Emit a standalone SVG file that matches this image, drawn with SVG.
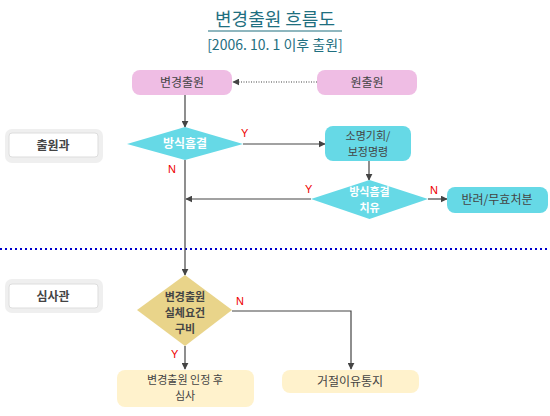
<svg xmlns="http://www.w3.org/2000/svg" width="550" height="416" viewBox="0 0 550 416">
<defs>
<marker id="ah" viewBox="0 0 10 10" refX="9" refY="5" markerWidth="7" markerHeight="7" orient="auto" markerUnits="userSpaceOnUse"><path d="M0,0 L10,5 L0,10 z" fill="#444"/></marker>
</defs>
<style>
text{font-family:"Noto Sans CJK KR","Liberation Sans",sans-serif;}
.t{font-size:12px;fill:#444;text-anchor:middle;}
.w{font-size:12px;fill:#fff;font-weight:bold;text-anchor:middle;}
.b{font-size:12px;fill:#444;font-weight:bold;text-anchor:middle;}
.s{font-size:11px;}
.yn{font-size:11px;fill:#e00;font-family:"Liberation Sans",sans-serif;}
.ln{fill:none;stroke:#444;stroke-width:1.2;}
.pink{fill:#efbde4;}
.cyan{fill:#66d9e6;}
.khaki{fill:#e9d48a;}
.ylw{fill:#fff2cc;}
</style>
<rect width="550" height="416" fill="#fff"/>
<g id="title">
<text x="275" y="26" style="font-size:18px;fill:#1f6f7f;text-anchor:middle">변경출원 흐름도</text>
<line x1="208" y1="31" x2="342" y2="31" stroke="#1f6f7f" stroke-width="1.2"/>
<text x="275" y="50" style="font-size:14px;fill:#1f6f7f;text-anchor:middle">[2006. 10. 1 이후 출원]</text>
</g>
<g id="divider"><line x1="0" y1="249" x2="550" y2="249" stroke="#0000cc" stroke-width="2" stroke-dasharray="2,3"/></g>
<g id="lane-chulwon">
<rect x="5" y="129" width="98" height="34" rx="7" fill="#efefef"/>
<rect x="9" y="133" width="89" height="24" rx="3" fill="#fff" stroke="#ddd"/>
<text x="53" y="150" class="b">출원과</text>
</g>
<g id="lane-simsa">
<rect x="5" y="279" width="98" height="34" rx="7" fill="#efefef"/>
<rect x="9" y="284" width="89" height="24" rx="3" fill="#fff" stroke="#ddd"/>
<text x="53" y="301" class="b">심사관</text>
</g>
<g id="connectors">
<line x1="317" y1="82" x2="233" y2="82" stroke="#444" stroke-width="1.2" stroke-dasharray="1,1.5" marker-end="url(#ah)"/>
<line class="ln" x1="185" y1="95" x2="185" y2="127" marker-end="url(#ah)"/>
<line class="ln" x1="243" y1="144" x2="325" y2="144" marker-end="url(#ah)"/>
<line class="ln" x1="369" y1="161" x2="369" y2="180" marker-end="url(#ah)"/>
<line class="ln" x1="311" y1="199" x2="186" y2="199" marker-end="url(#ah)"/>
<line class="ln" x1="428" y1="199" x2="447" y2="199" marker-end="url(#ah)"/>
<line class="ln" x1="185" y1="160" x2="185" y2="275" marker-end="url(#ah)"/>
<line class="ln" x1="185" y1="346" x2="185" y2="369" marker-end="url(#ah)"/>
<polyline class="ln" points="232,311 351,311 351,369" marker-end="url(#ah)"/>
<text x="241" y="137" class="yn">Y</text>
<text x="168" y="173" class="yn">N</text>
<text x="305" y="193" class="yn">Y</text>
<text x="430" y="194" class="yn">N</text>
<text x="236" y="305" class="yn">N</text>
<text x="171" y="358" class="yn">Y</text>
</g>
<g id="n-byeongyeong">
<rect x="132" y="70" width="100" height="25" rx="8" class="pink"/>
<text x="182" y="87" class="t">변경출원</text>
</g>
<g id="n-wonchulwon">
<rect x="317" y="70" width="100" height="25" rx="8" class="pink"/>
<text x="367" y="87" class="t">원출원</text>
</g>
<g id="n-bangsik">
<polygon points="127,144 185,127 243,144 185,160" class="cyan"/>
<text x="185" y="148" class="w">방식흠결</text>
</g>
<g id="n-somyeong">
<rect x="325" y="126" width="86" height="35" rx="8" class="cyan"/>
<text x="368" y="140" class="t s">소명기회/</text>
<text x="368" y="156" class="t s">보정명령</text>
</g>
<g id="n-chiyu">
<polygon points="311,199 369.5,180 428,199 369.5,219" class="cyan"/>
<text x="369.5" y="196" class="w s">방식흠결</text>
<text x="369.5" y="212" class="w s">치유</text>
</g>
<g id="n-banryeo">
<rect x="447" y="187" width="101" height="26" rx="8" class="cyan"/>
<text x="497" y="204" class="t">반려/무효처분</text>
</g>
<g id="n-silche">
<polygon points="137,310 185,275 232,310 185,346" class="khaki"/>
<text x="185" y="301" class="b s">변경출원</text>
<text x="185" y="317" class="b s">실체요건</text>
<text x="185" y="333" class="b s">구비</text>
</g>
<g id="n-injeong">
<rect x="117" y="370" width="137" height="37" rx="8" class="ylw"/>
<text x="185" y="384" class="t s">변경출원 인정 후</text>
<text x="185" y="400" class="t s">심사</text>
</g>
<g id="n-geojeol">
<rect x="282" y="370" width="137" height="23" rx="8" class="ylw"/>
<text x="350" y="386" class="t">거절이유통지</text>
</g>
</svg>
